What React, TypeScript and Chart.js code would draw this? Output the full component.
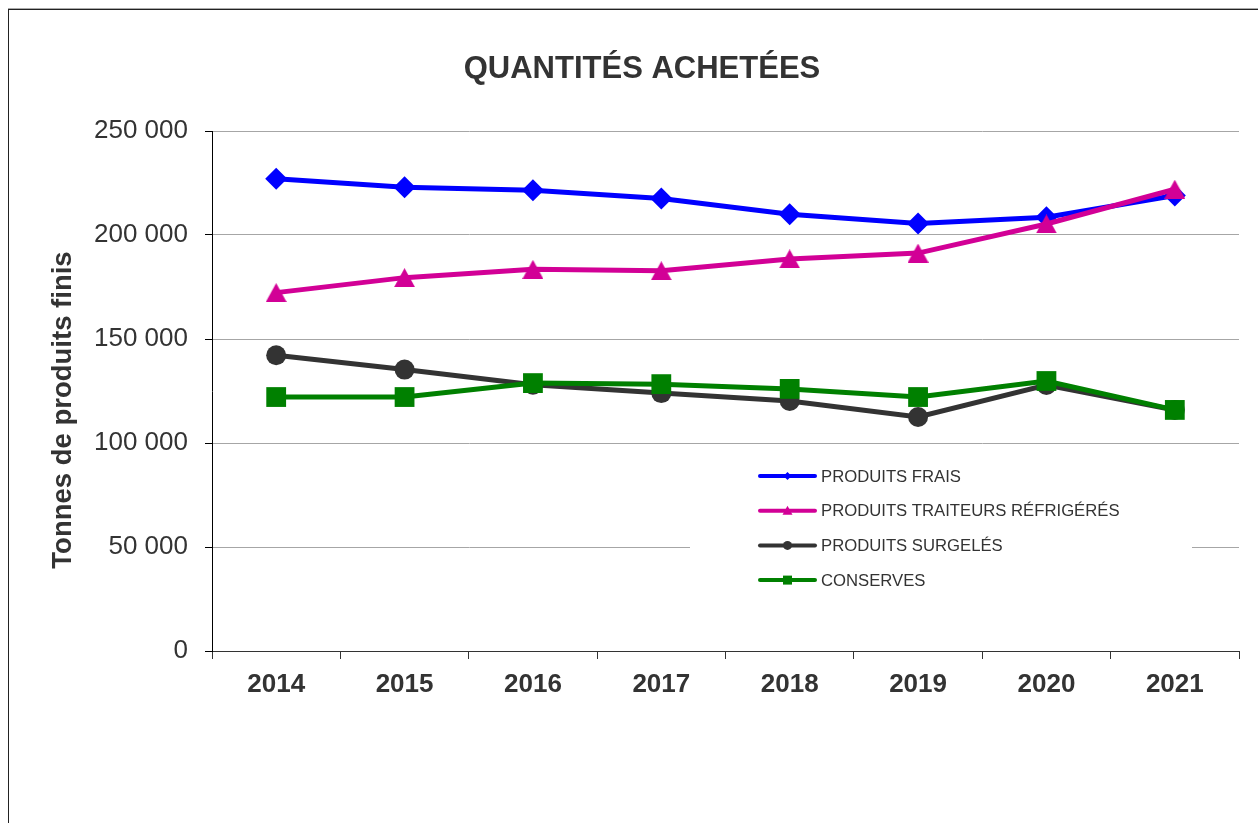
import { useEffect, useRef } from 'react';
import { Chart, registerables } from 'chart.js';

Chart.register(...registerables);

// ---- Data ----
const years = ['2014', '2015', '2016', '2017', '2018', '2019', '2020', '2021'];
const produitsFrais = [227000, 223000, 221500, 217500, 210000, 205500, 208500, 219000];
const traiteursRefrigeres = [172300, 179500, 183500, 182800, 188500, 191300, 205300, 222000];
const surgeles = [142200, 135300, 128000, 124000, 120200, 112500, 127900, 115900];
const conserves = [122100, 122100, 128800, 128300, 126000, 122100, 129800, 115900];
const seriesNames = [
  'PRODUITS FRAIS',
  'PRODUITS TRAITEURS RÉFRIGÉRÉS',
  'PRODUITS SURGELÉS',
  'CONSERVES',
];
const seriesColors = ['#0000FF', '#D20096', '#333333', '#008000'];
const chartTitle = 'QUANTITÉS ACHETÉES';
const yAxisTitle = 'Tonnes de produits finis';

const FONT = '"Liberation Sans", Arial, Helvetica, sans-serif';
const TEXT = '#333333';

function makeTriangle(color: string, w: number, h: number): HTMLCanvasElement {
  const c = document.createElement('canvas');
  c.width = w;
  c.height = h;
  const g = c.getContext('2d')!;
  g.fillStyle = color;
  g.beginPath();
  g.moveTo(w / 2, 0);
  g.lineTo(w, h);
  g.lineTo(0, h);
  g.closePath();
  g.fill();
  return c;
}

function drawLegendMarker(ctx: CanvasRenderingContext2D, i: number, x: number, y: number, color: string) {
  ctx.fillStyle = color;
  ctx.beginPath();
  if (i === 0) {
    const r = 4;
    ctx.moveTo(x, y - r);
    ctx.lineTo(x + r, y);
    ctx.lineTo(x, y + r);
    ctx.lineTo(x - r, y);
    ctx.closePath();
  } else if (i === 1) {
    ctx.moveTo(x, y - 5);
    ctx.lineTo(x + 5, y + 4);
    ctx.lineTo(x - 5, y + 4);
    ctx.closePath();
  } else if (i === 2) {
    ctx.arc(x, y, 4.5, 0, Math.PI * 2);
  } else {
    ctx.rect(x - 4.5, y - 4.5, 9, 9);
  }
  ctx.fill();
}

const overlayPlugin = {
  id: 'overlay',
  afterDatasetsDraw(chart: any) {
    const ctx: CanvasRenderingContext2D = chart.ctx;
    const area = chart.chartArea;
    ctx.save();
    // legend box
    const lx = area.left + 478;
    const ly = area.top + 321;
    ctx.fillStyle = '#ffffff';
    ctx.fillRect(lx, ly, 502, 153);
    const rowY0 = area.top + 345;
    const rowGap = 34.7;
    seriesNames.forEach((name, i) => {
      const y = rowY0 + i * rowGap;
      const x0 = area.left + 548;
      const x1 = area.left + 603;
      ctx.strokeStyle = seriesColors[i];
      ctx.lineWidth = 4;
      ctx.lineCap = 'round';
      ctx.beginPath();
      ctx.moveTo(x0, y);
      ctx.lineTo(x1, y);
      ctx.stroke();
      drawLegendMarker(ctx, i, (x0 + x1) / 2, y, seriesColors[i]);
      ctx.fillStyle = TEXT;
      ctx.font = `16.7px ${FONT}`;
      ctx.textAlign = 'left';
      ctx.textBaseline = 'middle';
      ctx.fillText(name, area.left + 609, y + 1);
    });
    ctx.restore();
  },
  afterDraw(chart: any) {
    const ctx: CanvasRenderingContext2D = chart.ctx;
    ctx.save();
    ctx.fillStyle = TEXT;
    ctx.font = `bold 31px ${FONT}`;
    ctx.textAlign = 'center';
    ctx.textBaseline = 'middle';
    ctx.fillText(chartTitle, 633, 59);
    ctx.translate(53, 400);
    ctx.rotate(-Math.PI / 2);
    ctx.font = `bold 27.5px ${FONT}`;
    ctx.fillText(yAxisTitle, 0, 1);
    ctx.restore();
  },
};

function formatThousands(v: number): string {
  return String(v).replace(/\B(?=(\d{3})+(?!\d))/g, ' ');
}

export default function App() {
  const canvasRef = useRef<HTMLCanvasElement | null>(null);

  useEffect(() => {
    document.documentElement.style.overflow = 'hidden';
    document.body.style.overflow = 'hidden';
    const canvas = canvasRef.current!;
    const triangle = makeTriangle(seriesColors[1], 21, 19);
    const base = {
      borderWidth: 5,
      pointBorderWidth: 0,
      pointHoverRadius: 0,
      tension: 0,
      fill: false,
    };
    const chart = new Chart(canvas, {
      type: 'line',
      data: {
        labels: years,
        datasets: [
          {
            ...base,
            label: seriesNames[0],
            data: produitsFrais,
            borderColor: seriesColors[0],
            backgroundColor: seriesColors[0],
            pointStyle: 'rectRot',
            pointRadius: 11,
            order: 3,
          },
          {
            ...base,
            label: seriesNames[1],
            data: traiteursRefrigeres,
            borderColor: seriesColors[1],
            backgroundColor: seriesColors[1],
            pointStyle: triangle as any,
            pointRadius: 11,
            order: 2,
          },
          {
            ...base,
            label: seriesNames[2],
            data: surgeles,
            borderColor: seriesColors[2],
            backgroundColor: seriesColors[2],
            pointStyle: 'circle',
            pointRadius: 10,
            order: 1,
          },
          {
            ...base,
            label: seriesNames[3],
            data: conserves,
            borderColor: seriesColors[3],
            backgroundColor: seriesColors[3],
            pointStyle: 'rect',
            pointRadius: 14,
            order: 0,
          },
        ],
      },
      options: {
        animation: false,
        responsive: false,
        maintainAspectRatio: false,
        events: [],
        layout: { padding: { top: 121, left: 0, right: 19, bottom: 112 } },
        plugins: {
          legend: { display: false },
          title: { display: false },
          tooltip: { enabled: false },
        },
        scales: {
          x: {
            type: 'category',
            offset: true,
            grid: {
              offset: true,
              drawOnChartArea: false,
              drawTicks: true,
              tickLength: 8,
              tickColor: '#333333',
              lineWidth: 1,
            },
            border: { display: true, color: '#333333', width: 1 },
            ticks: {
              color: TEXT,
              font: { family: FONT, size: 26, weight: 'bold' },
              padding: 10,
              maxRotation: 0,
              autoSkip: false,
            },
            afterFit: (scale: any) => {
              scale.height = 60;
            },
          },
          y: {
            min: 0,
            max: 250000,
            grid: {
              color: '#a6a6a6',
              lineWidth: 1,
              tickColor: '#000000',
              tickLength: 7,
              drawTicks: true,
            },
            border: { display: true, color: '#000000', width: 1 },
            ticks: {
              stepSize: 50000,
              color: TEXT,
              font: { family: FONT, size: 26 },
              padding: 17,
              callback: (v: any) => formatThousands(Number(v)),
            },
            afterFit: (scale: any) => {
              scale.width = 203;
            },
          },
        },
      },
      plugins: [overlayPlugin],
    });
    return () => chart.destroy();
  }, []);

  return (
    <div
      style={{
        position: 'fixed',
        left: 8,
        top: 8,
        width: 1250,
        height: 815,
        borderTop: '1px solid #aaaaaa',
        boxSizing: 'border-box',
        background: '#fff',
      }}
    >
      <div
        style={{
          borderTop: '1px solid #222222',
          borderLeft: '1px solid #222222',
          width: 1250,
          height: 814,
          boxSizing: 'border-box',
        }}
      >
        <canvas ref={canvasRef} width={1249} height={813} style={{ display: 'block', width: 1249, height: 813 }} />
      </div>
    </div>
  );
}
